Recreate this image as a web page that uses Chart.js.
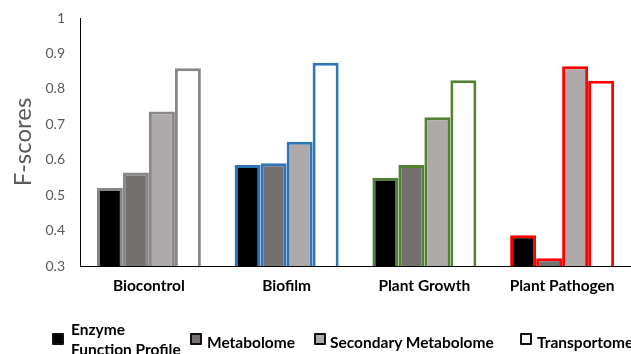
<!DOCTYPE html>
<html>
<head>
<meta charset="utf-8">
<script src="https://cdn.jsdelivr.net/npm/chart.js@4.4.1/dist/chart.umd.min.js"></script>
<style>
  html, body { margin: 0; padding: 0; background: #fff; overflow: hidden; }
  #wrap { position: relative; width: 631px; height: 354px; overflow: hidden; }
  #c { position: absolute; left: 0; top: 0; }
  .lg { position: absolute; font-family: Lato, "Open Sans", sans-serif; font-weight: bold; font-size: 15.5px; color: #000; line-height: 20px; white-space: pre; }
  .bx { position: absolute; width: 8px; height: 8px; border: 2px solid #111; border-radius: 1px; }
</style>
</head>
<body>
<div id="wrap">
  <canvas id="c" width="631" height="354"></canvas>
</div>
<script>
const categories = ['Biocontrol', 'Biofilm', 'Plant Growth', 'Plant Pathogen'];
const seriesNames = ['Enzyme Function Profile', 'Metabolome', 'Secondary Metabolome', 'Transportome'];
const enzyme = [0.520, 0.585, 0.549, 0.387];
const metabolome = [0.564, 0.590, 0.585, 0.322];
const secondary = [0.736, 0.651, 0.720, 0.864];
const transportome = [0.858, 0.874, 0.824, 0.823];
const yTicks = [0.3, 0.4, 0.5, 0.6, 0.7, 0.8, 0.9, 1];

const fills = ['#000000', '#767171', '#AEAAAA', '#FFFFFF'];
const categoryBorders = ['#878787', '#2E75B6', '#548235', '#FF0000'];
const seriesValues = [enzyme, metabolome, secondary, transportome];

const datasets = seriesNames.map((name, i) => ({
  label: name,
  data: seriesValues[i],
  backgroundColor: fills[i],
  borderColor: categoryBorders,
  borderWidth: 3,
  borderSkipped: false,
  categoryPercentage: 0.755,
  barPercentage: 1.0
}));

new Chart(document.getElementById('c'), {
  type: 'bar',
  data: { labels: categories, datasets },
  options: {
    responsive: false,
    animation: false,
    layout: { padding: { top: 18, right: 0, bottom: 0, left: 0 } },
    plugins: { legend: { display: false }, tooltip: { enabled: false } },
    scales: {
      x: {
        grid: { display: false, drawTicks: false },
        border: { display: true, color: '#000', width: 1 },
        ticks: { color: '#000', padding: 11, font: { family: 'Lato', weight: 'bold', size: 15.5 } },
        afterFit: (s) => { s.height = 88; s.paddingLeft = 0; s.paddingRight = 0; }
      },
      y: {
        min: 0.3, max: 1,
        afterBuildTicks: (s) => { s.ticks = yTicks.map(v => ({ value: v })); },
        grid: { display: false, drawTicks: false },
        border: { display: true, color: '#000', width: 1 },
        ticks: { color: '#595959', padding: 15, font: { family: 'Lato', size: 14 },
                 callback: (v) => String(Math.round(v * 10) / 10) },
        title: { display: true, text: 'F-scores', color: '#595959', padding: { top: 9, bottom: 0 },
                 font: { family: 'Lato', size: 24 } },
        afterFit: (s) => { s.width = 80; s.paddingTop = 0; s.paddingBottom = 0; }
      }
    }
  }
});

// HTML legend built from the series
const wrap = document.getElementById('wrap');
const boxLeft = [52, 190, 314, 520];
const textLeft = [71, 207, 330, 537];
seriesNames.forEach((name, i) => {
  const b = document.createElement('div');
  b.className = 'bx';
  b.style.left = boxLeft[i] + 'px';
  b.style.top = '333px';
  b.style.background = fills[i];
  wrap.appendChild(b);
  const t = document.createElement('div');
  t.className = 'lg';
  const label = i === 0 ? name.replace(' ', '\n') : name;
  t.textContent = label;
  t.style.left = textLeft[i] + 'px';
  t.style.top = (i === 0 ? 319 : 332) + 'px';
  wrap.appendChild(t);
});
</script>
</body>
</html>
